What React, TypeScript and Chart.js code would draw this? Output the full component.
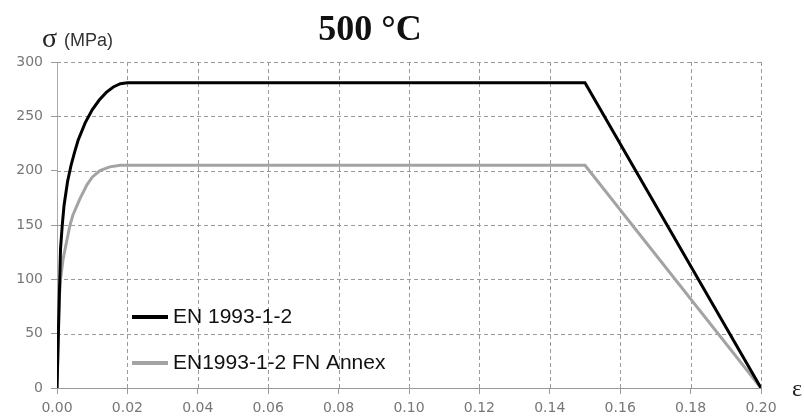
import React, { useEffect, useRef } from "react";
import { Chart, registerables } from "chart.js";

Chart.register(...registerables);

const titleText = "500 °C";
const yAxisSymbol = "σ";
const yAxisUnit = "(MPa)";
const xAxisSymbol = "ε";

const seriesLabels = ["EN 1993-1-2", "EN1993-1-2 FN Annex"];
const seriesColors = ["#000000", "#a3a3a3"];

const strainEN = [0, 0.001, 0.0015, 0.002, 0.003, 0.004, 0.005, 0.006, 0.008, 0.010, 0.012, 0.014, 0.016, 0.018, 0.020, 0.150, 0.200];
const stressEN = [0, 128, 150, 168, 190, 205, 217, 228, 244, 256, 265, 272, 277, 280, 281, 281, 0];

const strainFN = [0, 0.0006, 0.001, 0.0017, 0.0028, 0.0037, 0.0045, 0.0065, 0.0085, 0.010, 0.0122, 0.015, 0.018, 0.020, 0.150, 0.200];
const stressFN = [0, 80, 100, 118, 136, 150, 159, 174, 187, 194, 200, 203.5, 205, 205, 205, 0];

const xMin = 0, xMax = 0.2, xStep = 0.02;
const yMin = 0, yMax = 300, yStep = 50;

const zip = (xs: number[], ys: number[]) => xs.map((x, i) => ({ x, y: ys[i] }));

export default function App() {
  const ref = useRef<HTMLCanvasElement | null>(null);

  useEffect(() => {
    document.body.style.margin = "0";
    const canvas = ref.current;
    if (!canvas) return;

    const dashedGrid = {
      id: "dashedGrid",
      beforeDatasetsDraw(chart: any) {
        const { ctx, chartArea: a, scales } = chart;
        ctx.save();
        ctx.strokeStyle = "#9a9a9a";
        ctx.lineWidth = 1;
        ctx.setLineDash([4, 3]);
        scales.x.ticks.forEach((t: any) => {
          if (t.value === xMin) return;
          const px = Math.round(scales.x.getPixelForValue(t.value)) + 0.5;
          ctx.beginPath();
          ctx.moveTo(px, a.top);
          ctx.lineTo(px, a.bottom);
          ctx.stroke();
        });
        scales.y.ticks.forEach((t: any) => {
          if (t.value === yMin) return;
          const py = Math.round(scales.y.getPixelForValue(t.value)) + 0.5;
          ctx.beginPath();
          ctx.moveTo(a.left, py);
          ctx.lineTo(a.right, py);
          ctx.stroke();
        });
        ctx.restore();
      },
    };

    const overlay = {
      id: "overlay",
      afterDraw(chart: any) {
        const ctx = chart.ctx;
        ctx.save();
        ctx.fillStyle = "#111";
        ctx.font = "bold 36px 'Liberation Serif'";
        ctx.textAlign = "center";
        ctx.textBaseline = "alphabetic";
        ctx.fillText(titleText, 370, 40);
        ctx.textAlign = "left";
        ctx.font = "28px 'Liberation Serif'";
        ctx.fillStyle = "#222";
        ctx.fillText(yAxisSymbol, 42, 47);
        ctx.font = "18px 'Liberation Sans'";
        ctx.fillStyle = "#333";
        ctx.fillText(yAxisUnit, 64, 46);
        ctx.font = "24px 'Liberation Serif'";
        ctx.fillStyle = "#222";
        ctx.fillText(xAxisSymbol, 792, 396);
        const ys = [317, 363];
        chart.data.datasets.forEach((ds: any, i: number) => {
          ctx.strokeStyle = ds.borderColor;
          ctx.lineWidth = 4;
          ctx.beginPath();
          ctx.moveTo(132, ys[i]);
          ctx.lineTo(168, ys[i]);
          ctx.stroke();
          ctx.fillStyle = "#111";
          ctx.font = "21px 'Liberation Sans'";
          ctx.textBaseline = "middle";
          ctx.fillText(ds.label, 173, ys[i]);
        });
        ctx.restore();
      },
    };

    const chart = new Chart(canvas, {
      type: "line",
      data: {
        datasets: [
          {
            label: seriesLabels[0],
            data: zip(strainEN, stressEN),
            borderColor: seriesColors[0],
            borderWidth: 3,
            pointRadius: 0,
            tension: 0,
            fill: false,
          },
          {
            label: seriesLabels[1],
            data: zip(strainFN, stressFN),
            borderColor: seriesColors[1],
            borderWidth: 3,
            pointRadius: 0,
            tension: 0,
            fill: false,
          },
        ],
      },
      options: {
        animation: false,
        responsive: false,
        layout: { padding: { left: 0, right: 43, top: 62, bottom: 0 } },
        plugins: {
          legend: { display: false },
          title: { display: false },
          tooltip: { enabled: false },
        },
        scales: {
          x: {
            type: "linear",
            min: xMin,
            max: xMax,
            ticks: {
              stepSize: xStep,
              padding: 6,
              color: "#777",
              font: { family: "'DejaVu Sans'", size: 14 },
              callback: (v: any) => Number(v).toFixed(2),
            },
            grid: { drawOnChartArea: false, tickLength: 6, tickColor: "#999" },
            border: { display: true, color: "#999", width: 1 },
            afterFit: (s: any) => {
              s.height = 32;
              s.paddingLeft = 0;
              s.paddingRight = 0;
            },
          },
          y: {
            min: yMin,
            max: yMax,
            ticks: {
              stepSize: yStep,
              padding: 8,
              color: "#777",
              font: { family: "'DejaVu Sans'", size: 14 },
            },
            grid: { drawOnChartArea: false, tickLength: 6, tickColor: "#999" },
            border: { display: true, color: "#aaa", width: 1 },
            afterFit: (s: any) => {
              s.width = 57;
              s.paddingTop = 0;
              s.paddingBottom = 0;
            },
          },
        },
      },
      plugins: [dashedGrid, overlay],
    } as any);

    return () => chart.destroy();
  }, []);

  return (
    <div style={{ width: 804, height: 420, background: "#fff" }}>
      <canvas ref={ref} width={804} height={420} style={{ display: "block" }} />
    </div>
  );
}
